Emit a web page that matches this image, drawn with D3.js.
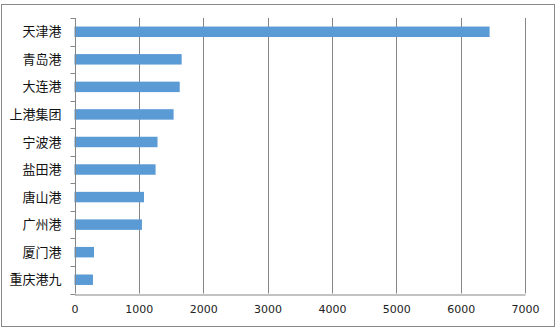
<!DOCTYPE html>
<html>
<head>
<meta charset="utf-8">
<script src="https://cdn.jsdelivr.net/npm/d3@7"></script>
<style>
  body { margin: 0; background: #fff; }
  svg { display: block; }
</style>
</head>
<body>
<div id="container"></div>
<script>
// ports and their values
const ports = ['天津港', '青岛港', '大连港', '上港集团', '宁波港', '盐田港', '唐山港', '广州港', '厦门港', '重庆港九'];
const values = [6450, 1665, 1635, 1540, 1290, 1260, 1080, 1048, 303, 287];
const xTicks = [0, 1000, 2000, 3000, 4000, 5000, 6000, 7000];

const width = 558, height = 331;
const margin = { top: 18, right: 33, bottom: 37.5, left: 74.5 };

const svg = d3.select('#container')
  .append('svg')
  .attr('width', width)
  .attr('height', height);

// outer frame
svg.append('rect')
  .attr('x', 1.5).attr('y', 4.5)
  .attr('width', 553).attr('height', 322)
  .attr('fill', '#fff')
  .attr('stroke', '#888888');

const x = d3.scaleLinear()
  .domain([0, 7000])
  .range([margin.left, width - margin.right]);

const y = d3.scaleBand()
  .domain(ports)
  .range([margin.top, height - margin.bottom])
  .paddingInner(0.62)
  .paddingOuter(0.31);

const yLines = d3.scaleBand()
  .domain(ports)
  .range([margin.top, height - margin.bottom]);

// vertical gridlines
svg.append('g')
  .selectAll('line')
  .data(xTicks.slice(1))
  .join('line')
  .attr('x1', d => Math.round(x(d)) + 0.5)
  .attr('x2', d => Math.round(x(d)) + 0.5)
  .attr('y1', margin.top)
  .attr('y2', height - margin.bottom)
  .attr('stroke', '#868686');

// bars
svg.append('g')
  .selectAll('rect')
  .data(values)
  .join('rect')
  .attr('x', x(0))
  .attr('y', (d, i) => y(ports[i]))
  .attr('width', d => x(d) - x(0))
  .attr('height', y.bandwidth())
  .attr('fill', '#5b9bd5');

// x axis
const xAxis = svg.append('g')
  .attr('transform', `translate(0,${Math.round(height - margin.bottom) + 0.5})`)
  .call(d3.axisBottom(x).tickValues(xTicks).tickFormat(d3.format('d')).tickSize(0).tickPadding(11));
xAxis.select('.domain').attr('stroke', '#868686');
xAxis.selectAll('text')
  .attr('font-family', '"DejaVu Sans", sans-serif')
  .attr('font-size', 11)
  .attr('fill', '#222');

// y axis with category ticks between bands
const yAxis = svg.append('g')
  .attr('transform', `translate(${Math.round(margin.left) + 0.5},0)`);
yAxis.append('line')
  .attr('y1', margin.top).attr('y2', height - margin.bottom)
  .attr('stroke', '#868686');
yAxis.selectAll('line.tick')
  .data(ports.map(p => yLines(p)).concat([height - margin.bottom]))
  .join('line')
  .attr('class', 'tick')
  .attr('x1', -5).attr('x2', 0)
  .attr('y1', d => Math.round(d) + 0.5)
  .attr('y2', d => Math.round(d) + 0.5)
  .attr('stroke', '#868686');
yAxis.selectAll('text')
  .data(ports)
  .join('text')
  .attr('x', -14)
  .attr('y', d => yLines(d) + yLines.bandwidth() / 2)
  .attr('dy', '0.35em')
  .attr('text-anchor', 'end')
  .attr('font-family', '"Noto Sans CJK SC", sans-serif')
  .attr('font-size', 13)
  .attr('fill', '#111')
  .text(d => d);
</script>
</body>
</html>
